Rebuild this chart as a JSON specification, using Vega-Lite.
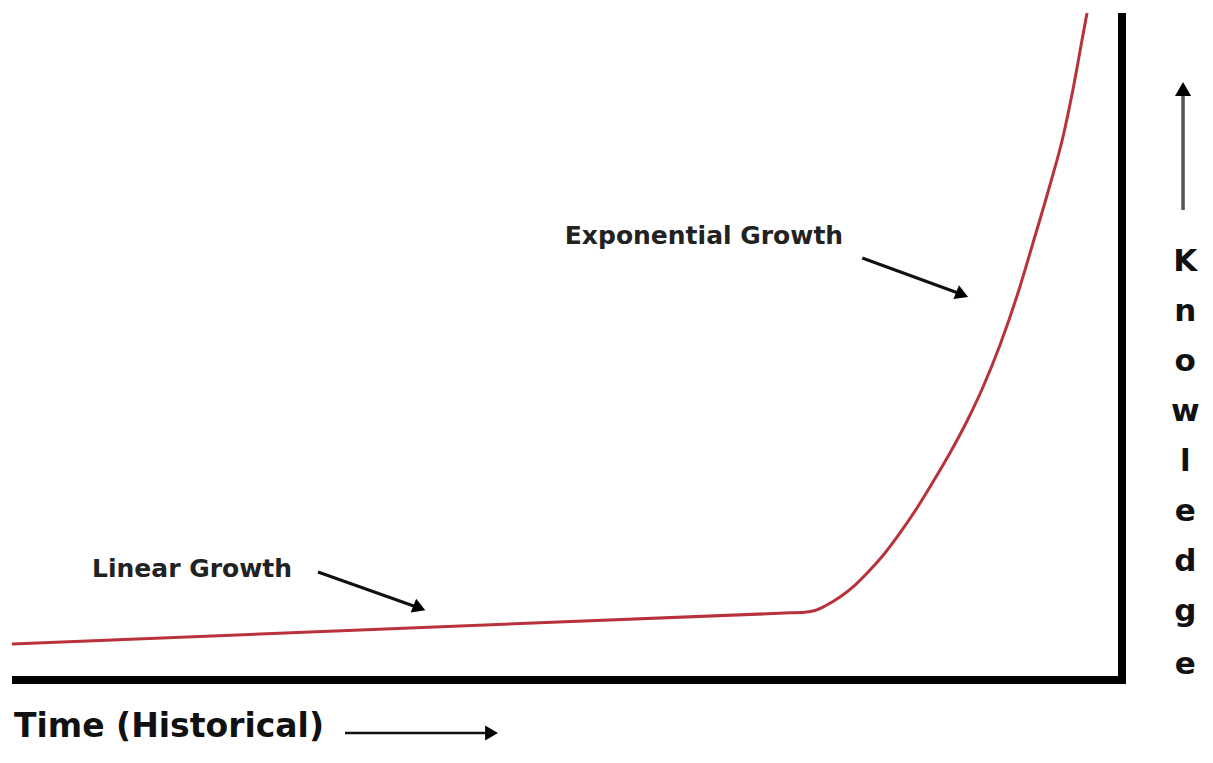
{
  "$schema": "https://vega.github.io/schema/vega-lite/v6.json",
  "autosize": "none",
  "width": 1110,
  "height": 667,
  "padding": {"left": 12, "top": 13, "right": 91, "bottom": 83},
  "background": "white",
  "config": {"view": {"stroke": null}},
  "datasets": {
    "linear": [
      {"time": 0, "knowledge": 5.4},
      {"time": 70.09, "knowledge": 10.07}
    ],
    "curve": [
      {"time": 70.09, "knowledge": 10.07},
      {"time": 71.44, "knowledge": 10.16},
      {"time": 72.34, "knowledge": 10.42},
      {"time": 73.24, "knowledge": 11.09},
      {"time": 74.59, "knowledge": 12.44},
      {"time": 75.95, "knowledge": 14.24},
      {"time": 77.3, "knowledge": 16.49},
      {"time": 78.65, "knowledge": 19.04},
      {"time": 80.0, "knowledge": 22.04},
      {"time": 81.53, "knowledge": 25.79},
      {"time": 82.97, "knowledge": 29.69},
      {"time": 84.5, "knowledge": 34.03},
      {"time": 86.04, "knowledge": 38.83},
      {"time": 87.48, "knowledge": 43.93},
      {"time": 89.01, "knowledge": 50.22},
      {"time": 90.54, "knowledge": 57.57},
      {"time": 91.98, "knowledge": 65.52},
      {"time": 93.51, "knowledge": 74.21},
      {"time": 94.68, "knowledge": 81.41},
      {"time": 95.59, "knowledge": 88.61},
      {"time": 96.4, "knowledge": 95.95},
      {"time": 96.85, "knowledge": 100}
    ],
    "frame": [
      {"x1": 0, "x2": 100.35, "y1": 0, "y2": 0},
      {"x1": 100, "x2": 100, "y1": -0.6, "y2": 100}
    ],
    "pointers": [
      {"label": "Exponential Growth", "x1": 76.6, "y1": 63.27, "x2": 85.6, "y2": 57.8},
      {"label": "Linear Growth", "x1": 27.57, "y1": 16.19, "x2": 36.7, "y2": 10.8}
    ],
    "labels": [
      {"label": "Exponential Growth", "time": 49.8, "knowledge": 66.6},
      {"label": "Linear Growth", "time": 7.21, "knowledge": 16.7}
    ],
    "timeArrow": [{"x1": 30.0, "x2": 43.2, "y": -7.95}],
    "knowArrow": [{"x": 105.5, "y1": 70.46, "y2": 88.6}],
    "letters": [
      {"ch": "K", "k": 62.67},
      {"ch": "n", "k": 55.17},
      {"ch": "o", "k": 47.68},
      {"ch": "w", "k": 40.18},
      {"ch": "l", "k": 32.68},
      {"ch": "e", "k": 25.19},
      {"ch": "d", "k": 17.69},
      {"ch": "g", "k": 10.19},
      {"ch": "e", "k": 2.25}
    ]
  },
  "layer": [
    {
      "data": {"name": "linear"},
      "mark": {"type": "line", "color": "#b8323c", "strokeWidth": 3, "clip": false},
      "encoding": {
        "x": {"field": "time", "type": "quantitative", "scale": {"domain": [0, 100], "nice": false, "zero": false}, "axis": null},
        "y": {"field": "knowledge", "type": "quantitative", "scale": {"domain": [0, 100], "nice": false, "zero": false}, "axis": null}
      }
    },
    {
      "data": {"name": "curve"},
      "mark": {"type": "line", "color": "#b8323c", "strokeWidth": 3, "interpolate": "monotone", "clip": false},
      "encoding": {
        "x": {"field": "time", "type": "quantitative"},
        "y": {"field": "knowledge", "type": "quantitative"}
      }
    },
    {
      "data": {"name": "frame"},
      "mark": {"type": "rule", "color": "black", "strokeWidth": 8, "strokeCap": "butt", "clip": false},
      "encoding": {
        "x": {"field": "x1", "type": "quantitative"},
        "x2": {"field": "x2"},
        "y": {"field": "y1", "type": "quantitative"},
        "y2": {"field": "y2"}
      }
    },
    {
      "data": {"name": "pointers"},
      "mark": {"type": "rule", "color": "#111", "strokeWidth": 3, "clip": false},
      "encoding": {
        "x": {"field": "x1", "type": "quantitative"},
        "x2": {"field": "x2"},
        "y": {"field": "y1", "type": "quantitative"},
        "y2": {"field": "y2"}
      }
    },
    {
      "data": {"name": "pointers"},
      "mark": {"type": "point", "shape": "triangle-up", "filled": true, "color": "black", "size": 220, "angle": 112, "opacity": 1, "clip": false},
      "encoding": {
        "x": {"field": "x2", "type": "quantitative"},
        "y": {"field": "y2", "type": "quantitative"}
      }
    },
    {
      "data": {"name": "labels"},
      "mark": {"type": "text", "align": "left", "baseline": "middle", "font": "DejaVu Sans", "fontWeight": "bold", "fontSize": 25, "color": "#222", "clip": false},
      "encoding": {
        "x": {"field": "time", "type": "quantitative"},
        "y": {"field": "knowledge", "type": "quantitative"},
        "text": {"field": "label"}
      }
    },
    {
      "data": {"values": [{"label": "Time (Historical)", "time": 0.18, "knowledge": -7.05}]},
      "mark": {"type": "text", "align": "left", "baseline": "middle", "font": "DejaVu Sans", "fontWeight": "bold", "fontSize": 33, "color": "#111", "clip": false},
      "encoding": {
        "x": {"field": "time", "type": "quantitative"},
        "y": {"field": "knowledge", "type": "quantitative"},
        "text": {"field": "label"}
      }
    },
    {
      "data": {"name": "timeArrow"},
      "mark": {"type": "rule", "color": "#111", "strokeWidth": 2.5, "clip": false},
      "encoding": {
        "x": {"field": "x1", "type": "quantitative"},
        "x2": {"field": "x2"},
        "y": {"field": "y", "type": "quantitative"}
      }
    },
    {
      "data": {"name": "timeArrow"},
      "mark": {"type": "point", "shape": "triangle-up", "filled": true, "color": "black", "size": 220, "angle": 90, "opacity": 1, "clip": false},
      "encoding": {
        "x": {"field": "x2", "type": "quantitative"},
        "y": {"field": "y", "type": "quantitative"}
      }
    },
    {
      "data": {"name": "knowArrow"},
      "mark": {"type": "rule", "color": "#555", "strokeWidth": 3.5, "clip": false},
      "encoding": {
        "x": {"field": "x", "type": "quantitative"},
        "y": {"field": "y1", "type": "quantitative"},
        "y2": {"field": "y2"}
      }
    },
    {
      "data": {"name": "knowArrow"},
      "mark": {"type": "point", "shape": "triangle-up", "filled": true, "color": "black", "size": 260, "angle": 0, "opacity": 1, "clip": false},
      "encoding": {
        "x": {"field": "x", "type": "quantitative"},
        "y": {"field": "y2", "type": "quantitative"}
      }
    },
    {
      "data": {"name": "letters"},
      "mark": {"type": "text", "align": "center", "baseline": "middle", "font": "DejaVu Sans", "fontWeight": "bold", "fontSize": 31, "color": "#111", "clip": false},
      "encoding": {
        "x": {"datum": 105.7, "type": "quantitative"},
        "y": {"field": "k", "type": "quantitative"},
        "text": {"field": "ch"}
      }
    }
  ]
}
